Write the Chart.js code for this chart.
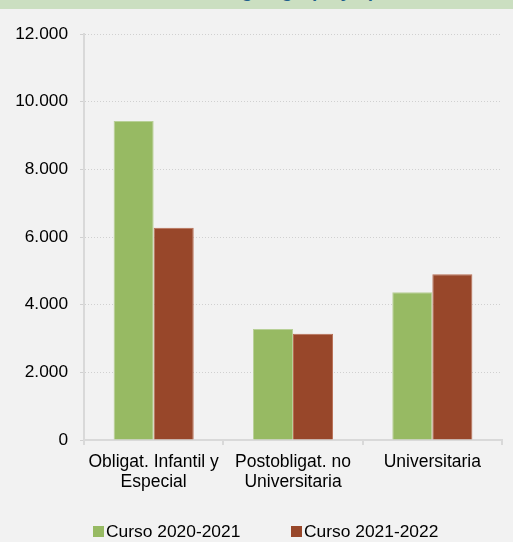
<!DOCTYPE html>
<html>
<head>
  <meta charset="UTF-8">
  <title>Alumnado por tipo de enseñanza</title>
  <script src="https://cdn.jsdelivr.net/npm/chart.js@4/dist/chart.umd.min.js"></script>
  <style>
    html, body {
      margin: 0;
      padding: 0;
      background: #f2f2f2;
      font-family: "Liberation Sans", Arial, sans-serif;
    }
    .wrap {
      position: relative;
      width: 513px;
      height: 542px;
      overflow: hidden;
    }
    .band {
      position: absolute;
      left: 0; top: 0;
      width: 513px;
      height: 9px;
      background: #cbdfc1;
      overflow: hidden;
    }
    .band span {
      position: absolute;
      left: 0; right: 0;
      top: -20px;
      text-align: center;
      font-weight: bold;
      font-size: 19px;
      color: #1f5f8b;
    }
    canvas { display: block; }
    .legend-item {
      position: absolute;
      top: 521px;
      font-size: 17.4px;
      color: #000;
      display: flex;
      align-items: center;
      white-space: nowrap;
    }
    .legend-item i {
      display: inline-block;
      width: 11px;
      height: 11px;
      margin-right: 2px;
    }
  </style>
</head>
<body>
<div class="wrap">
  <canvas id="chart" width="513" height="542"></canvas>
  <div class="band"><span>Alumnado según grupo y tipo</span></div>
  <div class="legend-item" style="left:93px"><i style="background:#97ba63"></i>Curso 2020-2021</div>
  <div class="legend-item" style="left:291px"><i style="background:#98472a"></i>Curso 2021-2022</div>
</div>

<script>
const categories = [["Obligat. Infantil y", "Especial"], ["Postobligat. no", "Universitaria"], "Universitaria"];
const curso2021 = [9430, 3280, 4370];
const curso2122 = [6270, 3140, 4900];
const yTicks = [0, 2000, 4000, 6000, 8000, 10000, 12000];

function fmt(v) {
  return String(v).replace(/\B(?=(\d{3})+(?!\d))/g, ".");
}

new Chart(document.getElementById("chart"), {
  type: "bar",
  data: {
    labels: categories,
    datasets: [
      { label: "Curso 2020-2021", data: curso2021, backgroundColor: "#97ba63", borderColor: "#b8d097", borderWidth: 1, borderSkipped: "bottom" },
      { label: "Curso 2021-2022", data: curso2122, backgroundColor: "#98472a", borderColor: "#b86e54", borderWidth: 1, borderSkipped: "bottom" }
    ]
  },
  options: {
    responsive: false,
    animation: false,
    layout: { padding: { top: 34, right: 11, bottom: 42, left: 0 } },
    plugins: { legend: { display: false }, tooltip: { enabled: false } },
    datasets: { bar: { categoryPercentage: 0.575, barPercentage: 1 } },
    scales: {
      x: {
        grid: { drawOnChartArea: false, color: "#d9d9d9", tickLength: 5, lineWidth: 2 },
        border: { color: "#d9d9d9", width: 2 },
        ticks: { color: "#000", padding: 7, maxRotation: 0, font: { family: "Liberation Sans", size: 17.5, lineHeight: 1.15 } },
        afterFit: s => { s.height = 60; }
      },
      y: {
        min: 0,
        max: 12000,
        afterBuildTicks: s => { s.ticks = yTicks.map(v => ({ value: v })); },
        grid: { color: "#d0d0d0", tickLength: 4, lineWidth: 1 },
        // in v4 border.dash dashes the grid lines
        border: { color: "#d9d9d9", width: 2, dash: [1, 2] },
        ticks: { color: "#000", padding: 12, callback: v => fmt(v), font: { family: "Liberation Sans", size: 17.3 } },
        afterFit: s => { s.width = 84; }
      }
    }
  }
});
</script>
</body>
</html>
